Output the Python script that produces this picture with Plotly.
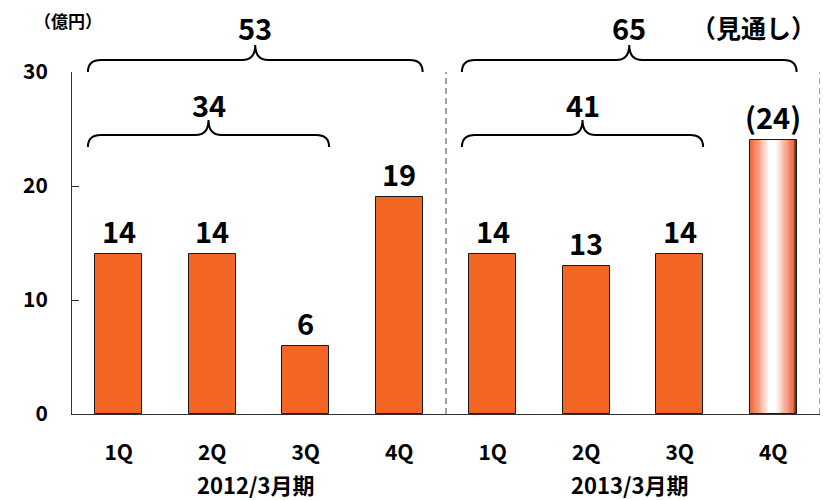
import plotly.graph_objects as go

# ---- data ----
quarters = ["1Q", "2Q", "3Q", "4Q", "1Q", "2Q", "3Q", "4Q"]
fiscal_years = ["2012/3月期", "2013/3月期"]
fiscal_year_members = [[0, 1, 2, 3], [4, 5, 6, 7]]
values = [14, 14, 6, 19, 14, 13, 14, 24]
is_forecast = [False, False, False, False, False, False, False, True]
brace_spans = [(0, 3), (0, 2), (4, 7), (4, 6)]
brace_levels = [0, 1, 0, 1]
brace_totals = [53, 34, 65, 41]
unit_label = "（億円）"
forecast_note = "（見通し）"
y_ticks = [0, 10, 20, 30]

# ---- style ----
FONT = "Noto Sans CJK JP, sans-serif"
ORANGE = "#F26522"
W, H = 823, 500

fig = go.Figure()

n = len(values)
xs = list(range(n))
BAR_W = 0.5

# solid bars
solid_x = [x for x, f in zip(xs, is_forecast) if not f]
solid_y = [v for v, f in zip(values, is_forecast) if not f]
fig.add_trace(go.Bar(x=solid_x, y=solid_y, width=BAR_W,
                     marker=dict(color=ORANGE, line=dict(color="#1a1a1a", width=1)),
                     hoverinfo="skip", showlegend=False))

# gradient (forecast) bars built from thin slices
stops = [(0.0, (240, 98, 55)), (0.2, (246, 160, 130)), (0.42, (255, 255, 255)),
         (0.56, (255, 255, 255)), (0.8, (245, 160, 135)), (0.93, (238, 112, 80)),
         (0.965, (150, 60, 25)), (1.0, (110, 40, 15))]


def col_at(t):
    for (t0, c0), (t1, c1) in zip(stops[:-1], stops[1:]):
        if t0 <= t <= t1:
            u = (t - t0) / (t1 - t0) if t1 > t0 else 0
            return "rgb(%d,%d,%d)" % tuple(round(a + (b - a) * u) for a, b in zip(c0, c1))
    return "rgb(%d,%d,%d)" % stops[-1][1]


NS = 40
gx, gy, gc = [], [], []
for x, v, f in zip(xs, values, is_forecast):
    if not f:
        continue
    for k in range(NS):
        t = (k + 0.5) / NS
        gx.append(x - BAR_W / 2 + t * BAR_W)
        gy.append(v)
        gc.append(col_at(t))
fig.add_trace(go.Bar(x=gx, y=gy, width=BAR_W / NS * 1.05,
                     marker=dict(color=gc, line=dict(width=0)),
                     hoverinfo="skip", showlegend=False))
fc_x = [x for x, f in zip(xs, is_forecast) if f]
fc_y = [v for v, f in zip(values, is_forecast) if f]
fig.add_trace(go.Bar(x=fc_x, y=fc_y, width=BAR_W,
                     marker=dict(color="rgba(0,0,0,0)", line=dict(color="#1a1a1a", width=1)),
                     hoverinfo="skip", showlegend=False))

# value labels
for x, v, f in zip(xs, values, is_forecast):
    txt = "(" + str(v) + ")" if f else str(v)
    fig.add_annotation(x=x, y=v, text=txt, showarrow=False,
                       yanchor="bottom", yshift=1,
                       font=dict(family=FONT, size=29, color="black", weight="bold"))

# braces (data x, paper y)
LEVEL_Y = {0: (1.0, 1.035, 1.079, 1.133), 1: (0.781, 0.816, 0.860, 0.905)}
D = 0.14
for (s, e), lvl, tot in zip(brace_spans, brace_levels, brace_totals):
    xl = s - 0.33
    xr = e + 0.25
    xc = (xl + xr) / 2
    yE, yL, yT, yLab = LEVEL_Y[lvl]
    path = (f"M {xl},{yE} Q {xl},{yL} {xl + D},{yL} L {xc - D},{yL} "
            f"Q {xc},{yL} {xc},{yT} Q {xc},{yL} {xc + D},{yL} "
            f"L {xr - D},{yL} Q {xr},{yL} {xr},{yE}")
    fig.add_shape(type="path", path=path, xref="x", yref="paper",
                  line=dict(color="black", width=2))
    fig.add_annotation(x=xc, y=yLab, xref="x", yref="paper", text=str(tot),
                       showarrow=False, yanchor="middle",
                       font=dict(family=FONT, size=29, color="black", weight="bold"))

# dashed separators
for xv in [3.5, 7.5]:
    fig.add_shape(type="line", x0=xv, x1=xv, y0=0, y1=1, xref="x", yref="paper",
                  line=dict(color="#444", width=1, dash="6px,4px"))

# group labels
for name, members in zip(fiscal_years, fiscal_year_members):
    fig.add_annotation(x=sum(members) / len(members), y=-0.205, xref="x", yref="paper",
                       text=name, showarrow=False, yanchor="middle", xshift=-4,
                       font=dict(family=FONT, size=22, color="black", weight="bold"))

fig.add_annotation(x=7.48, y=1.133, xref="x", yref="paper", text=forecast_note, showarrow=False,
                   xanchor="right", yanchor="middle",
                   font=dict(family=FONT, size=25, color="black", weight="bold"))

fig.update_layout(
    width=W, height=H,
    margin=dict(l=72, r=3, t=72, b=86),
    paper_bgcolor="white", plot_bgcolor="white",
    barmode="overlay", bargap=0,
    font=dict(family=FONT, color="black"),
    title=dict(text=unit_label, xref="container", yref="container",
               x=68 / W, xanchor="center", y=1 - 22 / H, yanchor="middle",
               font=dict(family=FONT, size=17, color="black", weight="bold")),
    xaxis=dict(range=[-0.5, 7.5], tickvals=xs, ticktext=quarters,
               showline=True, linecolor="#333", linewidth=1, ticks="",
               showgrid=False, zeroline=False, ticklabelstandoff=20,
               tickfont=dict(family=FONT, size=21, color="black", weight="bold")),
    yaxis=dict(range=[0, 30], tickvals=y_ticks, ticktext=[str(t) for t in y_ticks],
               showline=True, linecolor="#333", linewidth=1, ticks="inside", ticklen=7,
               tickcolor="#333", showgrid=False, zeroline=False, ticklabelstandoff=19,
               tickfont=dict(family=FONT, size=21, color="black", weight="bold")),
)

fig.write_html("out.html", config={"displayModeBar": False},
               post_script="document.body.style.margin='0px';")
